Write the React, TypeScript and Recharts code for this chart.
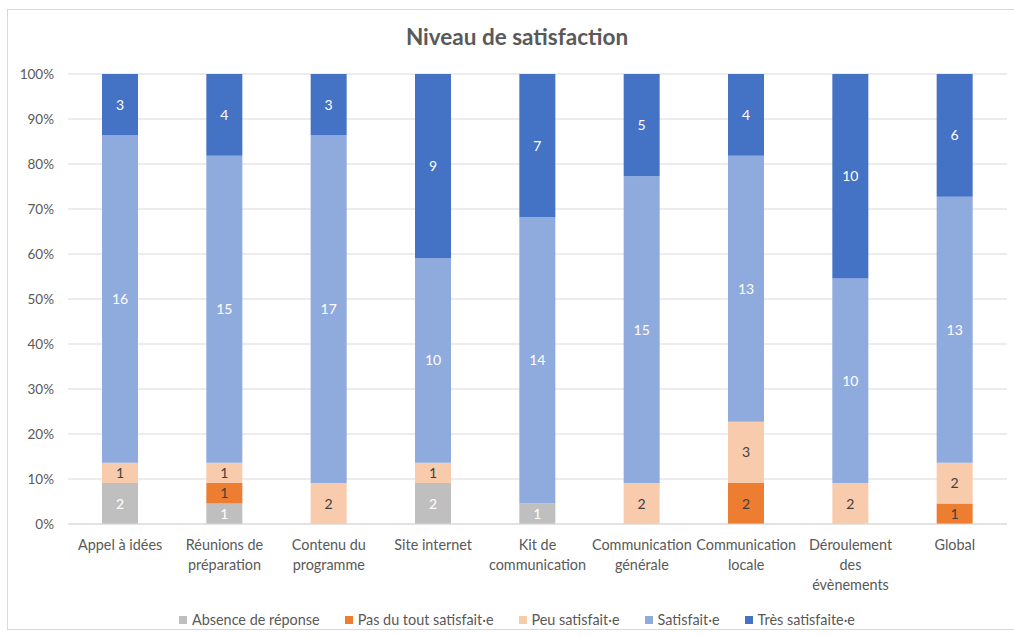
import { BarChart, Bar, XAxis, YAxis, CartesianGrid, LabelList } from "recharts";

const categories = [
  "Appel à idées",
  "Réunions de\npréparation",
  "Contenu du\nprogramme",
  "Site internet",
  "Kit de\ncommunication",
  "Communication\ngénérale",
  "Communication\nlocale",
  "Déroulement\ndes\névènements",
  "Global",
];

const absence = [2, 1, 0, 2, 1, 0, 0, 0, 0];
const pasDuTout = [0, 1, 0, 0, 0, 0, 2, 0, 1];
const peu = [1, 1, 2, 1, 0, 2, 3, 2, 2];
const satisfait = [16, 15, 17, 10, 14, 15, 13, 10, 13];
const tres = [3, 4, 3, 9, 7, 5, 4, 10, 6];

const yTicks = [0, 0.1, 0.2, 0.3, 0.4, 0.5, 0.6, 0.7, 0.8, 0.9, 1];

const series = [
  { key: "absence", name: "Absence de réponse", color: "#BFBFBF", label: "#FFFFFF", values: absence },
  { key: "pasDuTout", name: "Pas du tout satisfait·e", color: "#ED7D31", label: "#404040", values: pasDuTout },
  { key: "peu", name: "Peu satisfait·e", color: "#F8CBAD", label: "#404040", values: peu },
  { key: "satisfait", name: "Satisfait·e", color: "#8FAADC", label: "#FFFFFF", values: satisfait },
  { key: "tres", name: "Très satisfaite·e", color: "#4472C4", label: "#FFFFFF", values: tres },
];

const data = categories.map((c, i) => {
  const row: any = { name: c };
  series.forEach(s => { row[s.key] = s.values[i]; });
  return row;
});

const FONT = "Lato, 'Liberation Sans', sans-serif";
const TEXT = "#595959";

const CatTick = ({ x, y, payload }: any) => {
  const lines = String(payload.value).split("\n");
  return (
    <text x={x} y={y} textAnchor="middle" fill={TEXT} fontSize={14.4} fontFamily={FONT}>
      {lines.map((l, i) => (
        <tspan key={i} x={x} y={y + 18 + i * 20}>{l}</tspan>
      ))}
    </text>
  );
};

export default function App() {
  return (
    <div style={{ position: "absolute", left: 0, top: 0, width: 1014, height: 637, background: "#fff", fontFamily: FONT }}>
      <div style={{ position: "absolute", left: 7, top: 9, width: 1010, height: 621, border: "1px solid #D9D9D9", boxSizing: "border-box" }} />
      <div style={{ position: "absolute", left: 0, top: 23, width: 1034, textAlign: "center", fontSize: 22.5, fontWeight: 700, color: TEXT }}>
        Niveau de satisfaction
      </div>
      <div style={{ position: "absolute", left: 0, top: 0 }}>
        <BarChart
          width={1014}
          height={637}
          data={data}
          stackOffset="expand"
          barSize={36}
          margin={{ top: 74, right: 7, left: 0, bottom: 0 }}
        >
          <CartesianGrid vertical={false} stroke="#D9D9D9" />
          <XAxis
            dataKey="name"
            height={113}
            interval={0}
            tickLine={false}
            axisLine={{ stroke: "#D9D9D9" }}
            tick={<CatTick />}
          />
          <YAxis
            width={68}
            ticks={yTicks}
            domain={[0, 1]}
            tickFormatter={v => `${Math.round(v * 100)}%`}
            axisLine={false}
            tickLine={false}
            tickSize={0}
            tickMargin={14}
            tick={{ fill: TEXT, fontSize: 13.5, fontFamily: FONT }}
          />
          {series.map(s => (
            <Bar key={s.key} dataKey={s.key} name={s.name} stackId="a" fill={s.color} isAnimationActive={false}>
              <LabelList
                dataKey={s.key}
                position="center"
                formatter={(v: any) => (v ? v : "")}
                style={{ fill: s.label, fontSize: 14, fontFamily: FONT }}
              />
            </Bar>
          ))}
        </BarChart>
      </div>
      <div style={{ position: "absolute", left: 0, top: 611, width: 1034, display: "flex", justifyContent: "center", gap: 25, fontSize: 14.4, color: TEXT }}>
        {series.map(s => (
          <div key={s.key} style={{ display: "flex", alignItems: "center" }}>
            <span style={{ width: 8, height: 8, background: s.color, marginRight: 5, display: "inline-block" }} />
            <span>{s.name}</span>
          </div>
        ))}
      </div>
    </div>
  );
}
